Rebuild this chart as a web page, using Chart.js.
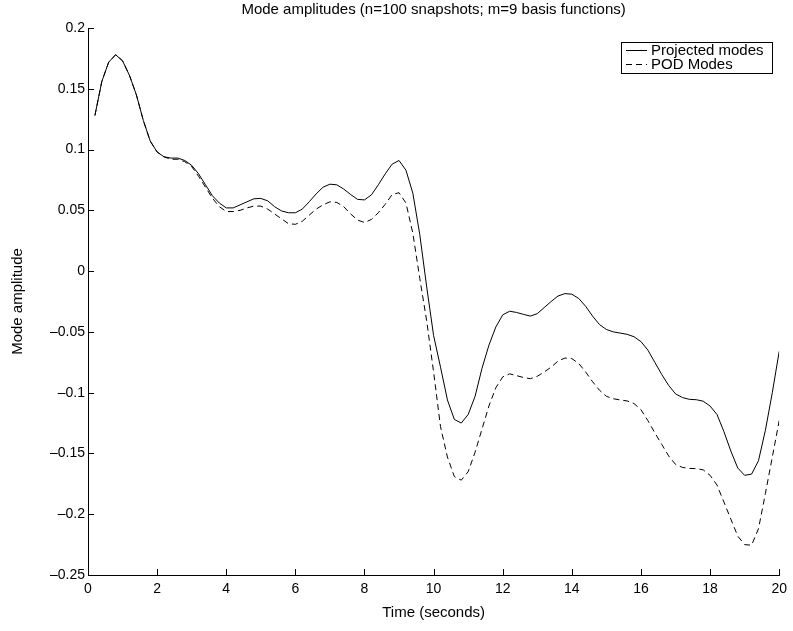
<!DOCTYPE html>
<html>
<head>
<meta charset="UTF-8">
<script src="https://cdn.jsdelivr.net/npm/chart.js"></script>
<style>
  html, body { margin: 0; padding: 0; background: #fff; }
  #myChart { display: block; }
</style>
</head>
<body>
<canvas id="myChart" width="793" height="631"></canvas>
<script>
// time axis (seconds), one snapshot every 0.2 s
var times = [
  0.2, 0.4, 0.6, 0.8, 1.0, 1.2, 1.4, 1.6, 1.8, 2.0,
  2.2, 2.4, 2.6, 2.8, 3.0, 3.2, 3.4, 3.6, 3.8, 4.0,
  4.2, 4.4, 4.6, 4.8, 5.0, 5.2, 5.4, 5.6, 5.8, 6.0,
  6.2, 6.4, 6.6, 6.8, 7.0, 7.2, 7.4, 7.6, 7.8, 8.0,
  8.2, 8.4, 8.6, 8.8, 9.0, 9.2, 9.4, 9.6, 9.8, 10.0,
  10.2, 10.4, 10.6, 10.8, 11.0, 11.2, 11.4, 11.6, 11.8, 12.0,
  12.2, 12.4, 12.6, 12.8, 13.0, 13.2, 13.4, 13.6, 13.8, 14.0,
  14.2, 14.4, 14.6, 14.8, 15.0, 15.2, 15.4, 15.6, 15.8, 16.0,
  16.2, 16.4, 16.6, 16.8, 17.0, 17.2, 17.4, 17.6, 17.8, 18.0,
  18.2, 18.4, 18.6, 18.8, 19.0, 19.2, 19.4, 19.6, 19.8, 20.0
];

var projected = [
  0.128, 0.156, 0.172, 0.178, 0.173, 0.161, 0.145, 0.124, 0.107, 0.098,
  0.094, 0.093, 0.093, 0.091, 0.087, 0.080, 0.071, 0.062, 0.056, 0.052,
  0.052, 0.0545, 0.057, 0.0595, 0.0598, 0.0578, 0.053, 0.0495, 0.048, 0.048,
  0.051, 0.057, 0.0635, 0.069, 0.0715, 0.071, 0.0675, 0.063, 0.059, 0.0586,
  0.0627, 0.071, 0.080, 0.088, 0.091, 0.083, 0.064, 0.030, -0.013, -0.053,
  -0.079, -0.106, -0.122, -0.125, -0.118, -0.103, -0.080, -0.061, -0.046, -0.036,
  -0.033, -0.034, -0.0356, -0.037, -0.035, -0.030, -0.025, -0.0205, -0.0185, -0.019,
  -0.0225, -0.029, -0.037, -0.044, -0.048, -0.050, -0.051, -0.052, -0.054, -0.058,
  -0.065, -0.075, -0.085, -0.094, -0.101, -0.104, -0.1055, -0.1058, -0.107, -0.111,
  -0.118, -0.132, -0.148, -0.162, -0.168, -0.167, -0.156, -0.131, -0.100, -0.066
];

var podModes = [
  0.128, 0.156, 0.172, 0.178, 0.173, 0.161, 0.145, 0.124, 0.107, 0.098,
  0.094, 0.092, 0.092, 0.090, 0.086, 0.078, 0.069, 0.060, 0.053, 0.049,
  0.049, 0.050, 0.052, 0.0535, 0.0535, 0.051, 0.047, 0.043, 0.039, 0.0385,
  0.041, 0.046, 0.051, 0.0545, 0.057, 0.0565, 0.053, 0.047, 0.042, 0.040,
  0.0425, 0.048, 0.055, 0.063, 0.0645, 0.056, 0.031, -0.006, -0.041, -0.083,
  -0.128, -0.153, -0.169, -0.172, -0.165, -0.149, -0.130, -0.111, -0.096, -0.087,
  -0.0845, -0.086, -0.0875, -0.0885, -0.0865, -0.083, -0.079, -0.074, -0.0715, -0.072,
  -0.076, -0.083, -0.091, -0.098, -0.103, -0.105, -0.106, -0.1068, -0.109, -0.114,
  -0.123, -0.133, -0.1425, -0.152, -0.159, -0.1615, -0.1623, -0.1625, -0.1635, -0.168,
  -0.176, -0.190, -0.204, -0.218, -0.225, -0.2255, -0.212, -0.183, -0.153, -0.123
];

var seriesNames = ["Projected modes", "POD Modes"];
var xTicks = [0, 2, 4, 6, 8, 10, 12, 14, 16, 18, 20];
var yTicks = [-0.25, -0.2, -0.15, -0.1, -0.05, 0, 0.05, 0.1, 0.15, 0.2];
var yTickLabels = ["\u20130.25", "\u20130.2", "\u20130.15", "\u20130.1", "\u20130.05", "0", "0.05", "0.1", "0.15", "0.2"];
var chartTitle = "Mode amplitudes (n=100 snapshots; m=9 basis functions)";
var xTitle = "Time (seconds)";
var yTitle = "Mode amplitude";

var FONT = "'Liberation Sans', Arial, Helvetica, sans-serif";

function toPoints(ys) {
  var pts = [];
  for (var i = 0; i < times.length; i++) {
    pts.push({ x: times[i], y: ys[i] });
  }
  return pts;
}

// inward ticks, titles and the boxed legend, matlab style
var matlabBits = {
  id: 'matlabBits',
  afterDraw: function (chart) {
    var ctx = chart.ctx;
    var a = chart.chartArea;
    var xs = chart.scales.x, ys = chart.scales.y;
    ctx.save();
    ctx.strokeStyle = '#000';
    ctx.lineWidth = 1;
    ctx.beginPath();
    xTicks.forEach(function (v) {
      var px = Math.round(xs.getPixelForValue(v)) + 0.5;
      ctx.moveTo(px, a.bottom);
      ctx.lineTo(px, a.bottom - 6);
    });
    yTicks.forEach(function (v) {
      var py = Math.round(ys.getPixelForValue(v)) + 0.5;
      ctx.moveTo(a.left, py);
      ctx.lineTo(a.left + 6, py);
    });
    ctx.stroke();

    ctx.fillStyle = '#000';
    ctx.font = '15px ' + FONT;
    ctx.textAlign = 'center';
    ctx.textBaseline = 'middle';
    var cx = (a.left + a.right) / 2;
    ctx.fillText(chartTitle, cx, 10);
    ctx.fillText(xTitle, cx, 613);
    ctx.save();
    ctx.translate(18, (a.top + a.bottom) / 2);
    ctx.rotate(-Math.PI / 2);
    ctx.fillText(yTitle, 0, 0);
    ctx.restore();

    // legend box
    var lx = 621, ly = 42, lw = 151, lh = 31;
    ctx.fillStyle = '#fff';
    ctx.fillRect(lx, ly, lw, lh);
    ctx.strokeRect(lx + 0.5, ly + 0.5, lw, lh);
    ctx.textAlign = 'left';
    ctx.fillStyle = '#000';
    chart.data.datasets.forEach(function (ds, i) {
      var yy = ly + 8.5 + i * 14;
      ctx.beginPath();
      ctx.setLineDash(ds.borderDash || []);
      ctx.moveTo(lx + 5, yy);
      ctx.lineTo(lx + 26, yy);
      ctx.stroke();
      ctx.setLineDash([]);
      ctx.fillText(ds.label, lx + 30, yy);
    });
    ctx.restore();
  }
};

var config = {
  type: 'line',
  data: {
    datasets: [{
      label: seriesNames[0],
      data: toPoints(projected),
      borderColor: '#000',
      borderWidth: 1,
      pointRadius: 0,
      tension: 0,
      fill: false
    }, {
      label: seriesNames[1],
      data: toPoints(podModes),
      borderColor: '#000',
      borderWidth: 1,
      borderDash: [6, 4],
      pointRadius: 0,
      tension: 0,
      fill: false
    }]
  },
  options: {
    responsive: false,
    animation: false,
    devicePixelRatio: 1,
    layout: { padding: { top: 28, right: 10, left: 0, bottom: 0 } },
    plugins: {
      legend: { display: false },
      title: { display: false },
      tooltip: { enabled: false }
    },
    scales: {
      x: {
        type: 'linear',
        min: 0,
        max: 20,
        afterBuildTicks: function (s) { s.ticks = xTicks.map(function (v) { return { value: v }; }); },
        afterFit: function (s) { s.height = 56; },
        grid: { drawOnChartArea: false, drawTicks: false },
        border: { display: true, color: '#000', width: 1 },
        ticks: {
          color: '#000',
          padding: 6,
          maxRotation: 0,
          font: { family: FONT, size: 14 },
          callback: function (v) { return String(v); }
        }
      },
      y: {
        type: 'linear',
        min: -0.25,
        max: 0.2,
        afterBuildTicks: function (s) { s.ticks = yTicks.map(function (v) { return { value: v }; }); },
        afterFit: function (s) { s.width = 88; },
        grid: { drawOnChartArea: false, drawTicks: false },
        border: { display: true, color: '#000', width: 1 },
        ticks: {
          color: '#000',
          padding: 3,
          font: { family: FONT, size: 14 },
          callback: function (v, i) { return yTickLabels[i]; }
        }
      }
    }
  },
  plugins: [matlabBits]
};

window.myChart = new Chart(document.getElementById('myChart'), config);
</script>
</body>
</html>
